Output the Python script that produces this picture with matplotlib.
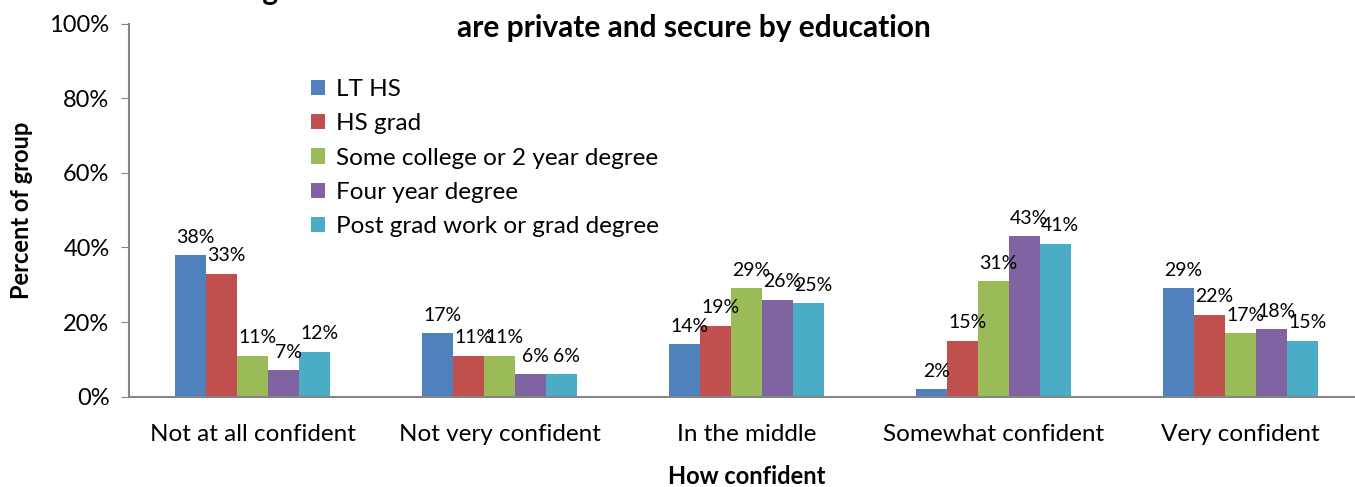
import numpy as np
import matplotlib.pyplot as plt

plt.rcParams['font.family'] = ['Lato', 'DejaVu Sans']

categories = ['Not at all confident', 'Not very confident', 'In the middle',
              'Somewhat confident', 'Very confident']
groups = ['LT HS', 'HS grad', 'Some college or 2 year degree',
          'Four year degree', 'Post grad work or grad degree']
lt_hs = [38, 17, 14, 2, 29]
hs_grad = [33, 11, 19, 15, 22]
some_college = [11, 11, 29, 31, 17]
four_year = [7, 6, 26, 43, 18]
post_grad = [12, 6, 25, 41, 15]
series = [lt_hs, hs_grad, some_college, four_year, post_grad]
colors = ['#4F81BD', '#C0504D', '#9BBB59', '#8064A2', '#4BACC6']

fig = plt.figure(figsize=(13.55, 4.87), dpi=100)
ax = fig.add_axes([0.0952, 0.1858, 0.9114, 0.765])

x = np.arange(len(categories))
w = 0.125
for i, (vals, col, name) in enumerate(zip(series, colors, groups)):
    pos = x + (i - 2) * w
    ax.bar(pos, vals, width=w, color=col, label=name)
    for p, v in zip(pos, vals):
        ax.text(p + 0.02, v + 2.5, f'{v}%', ha='center', va='bottom', fontsize=14)

ax.set_xlim(-0.5, 4.5)
ax.set_ylim(0, 100)
ax.set_yticks(range(0, 101, 20))
ax.set_yticklabels([f'{t}%' for t in range(0, 101, 20)], fontsize=17)
ax.set_xticks(x)
ax.set_xticklabels(categories, fontsize=17.5)
ax.tick_params(axis='x', length=0, pad=20)
ax.tick_params(axis='y', length=6, color='#868686', pad=8)
for s in ['top', 'right']:
    ax.spines[s].set_visible(False)
for s in ['left', 'bottom']:
    ax.spines[s].set_color('#868686')
    ax.spines[s].set_linewidth(1.5)

ax.set_ylabel('Percent of group', fontsize=17, fontweight='bold', labelpad=12)
ax.set_xlabel('How confident', fontsize=17, fontweight='bold', labelpad=14)

fig.text(0.513, 0.999, 'Figure 10: How confident individuals are that online communications',
         ha='center', va='baseline', fontsize=21.5, fontweight='bold')
fig.text(0.512, 0.925, 'are private and secure by education',
         ha='center', va='baseline', fontsize=21.5, fontweight='bold')

ax.legend(loc='upper left', bbox_to_anchor=(0.222, 0.858), bbox_transform=fig.transFigure,
          frameon=False, fontsize=17.5, handlelength=0.6, handleheight=0.6,
          handletextpad=0.45, labelspacing=0.55, borderaxespad=0)

fig.savefig('out.png', dpi=100)
